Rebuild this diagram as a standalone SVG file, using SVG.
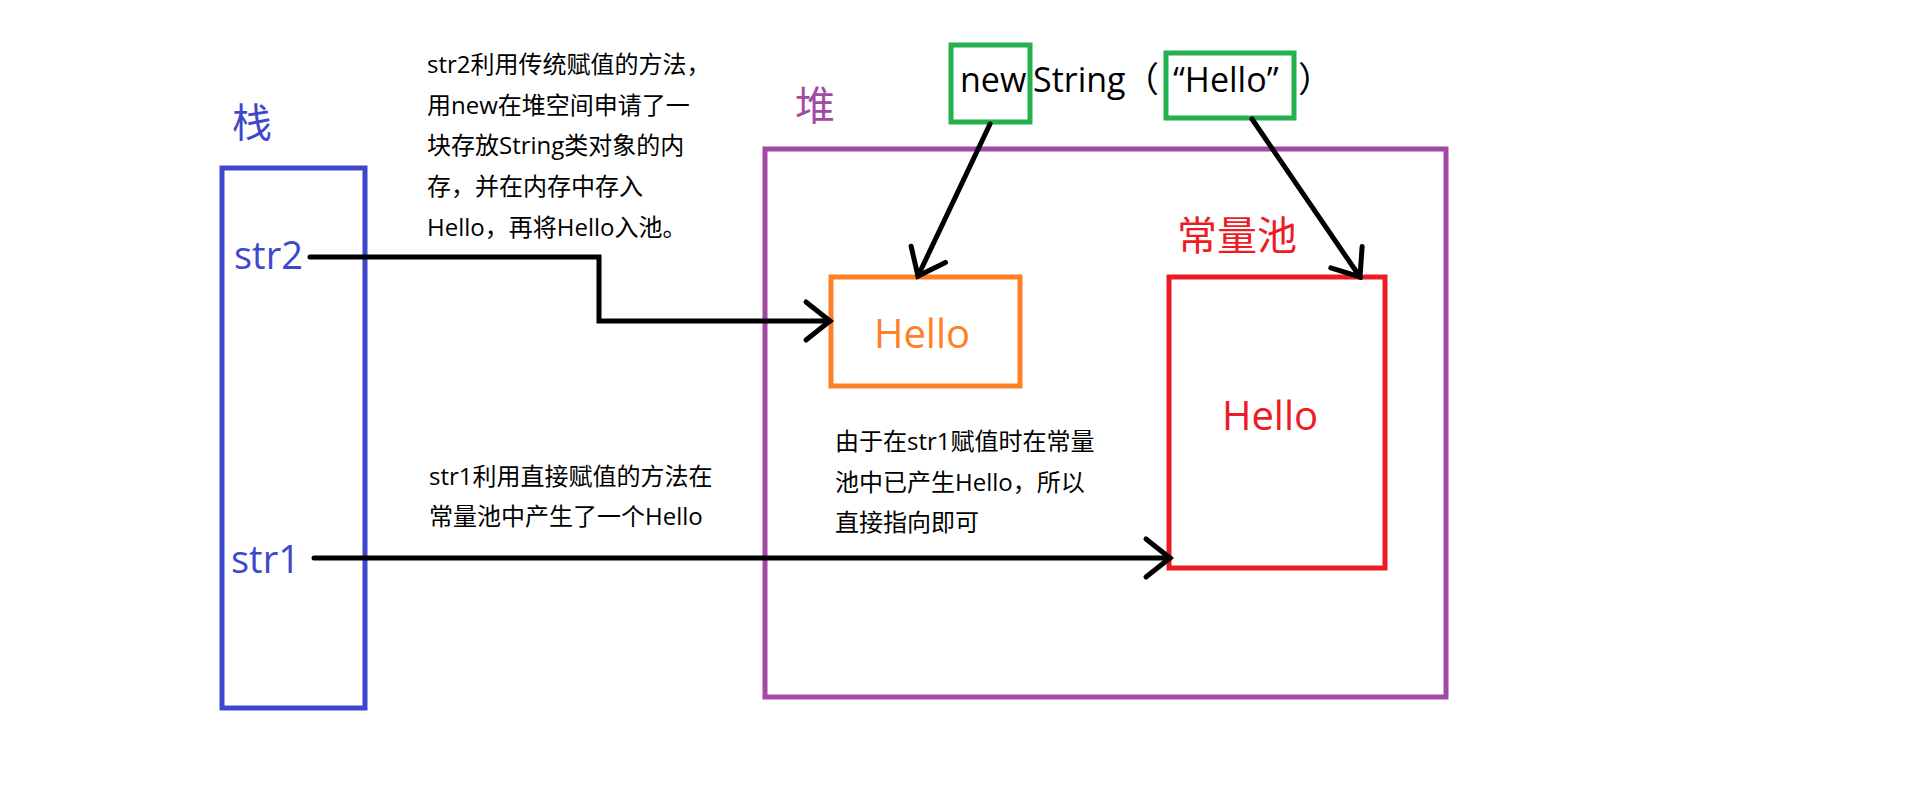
<svg xmlns="http://www.w3.org/2000/svg" width="1913" height="801" viewBox="0 0 1913 801">
<style>
.box{fill:none;stroke-width:5}
.lat{font-family:"Open Sans","Noto Sans CJK SC",sans-serif}
.cjk{font-family:"Noto Sans CJK SC","Open Sans",sans-serif}
.note{font-family:"Open Sans","Noto Sans CJK SC",sans-serif;font-size:24px;fill:#000}
.conn{fill:none;stroke:#000;stroke-width:5;stroke-linecap:round;stroke-linejoin:miter;marker-end:url(#arr)}
</style>
<defs>
<marker id="arr" markerUnits="userSpaceOnUse" viewBox="-30 -25 34 50" refX="0" refY="0" markerWidth="34" markerHeight="50" orient="auto" overflow="visible">
<path d="M -24 -19 L 0 0 L -24 19" fill="none" stroke="#000" stroke-width="5" stroke-linecap="round" stroke-linejoin="miter"/>
</marker>
</defs>
<rect width="1913" height="801" fill="#fff"/>

<g id="stack">
<text class="cjk" x="232" y="137" font-size="40" fill="#3F48CC">栈</text>
<rect class="box" x="222" y="168" width="143" height="540" stroke="#3F48CC"/>
<text class="lat" x="234" y="269" font-size="38" fill="#3F48CC">str2</text>
<text class="lat" x="231" y="573" font-size="38" fill="#3F48CC">str1</text>
</g>

<g id="heap">
<text class="cjk" x="795" y="120" font-size="40" fill="#A349A4">堆</text>
<rect class="box" x="765" y="149" width="681" height="548" stroke="#A349A4"/>
</g>

<g id="heap-hello">
<rect class="box" x="831" y="277" width="189" height="109" stroke="#FF7F27"/>
<text class="lat" x="922" y="348" font-size="40" fill="#FF7F27" text-anchor="middle">Hello</text>
</g>

<g id="pool">
<text class="cjk" x="1177" y="250" font-size="40" fill="#ED1C24">常量池</text>
<rect class="box" x="1169" y="277" width="216" height="291" stroke="#ED1C24"/>
<text class="lat" x="1270" y="430" font-size="40" fill="#ED1C24" text-anchor="middle">Hello</text>
</g>

<g id="new-expr">
<rect class="box" x="951" y="45" width="79" height="77" stroke="#22B14C"/>
<rect class="box" x="1166" y="53" width="128" height="65" stroke="#22B14C"/>
<text class="lat" x="960" y="92" font-size="34" fill="#000">new</text>
<text class="lat" x="1033" y="92" font-size="34" fill="#000">String</text>
<text class="cjk" x="1124" y="92" font-size="35" fill="#000">（</text>
<text class="lat" x="1173" y="92" font-size="34" fill="#000">“Hello”</text>
<text class="cjk" x="1298" y="92" font-size="35" fill="#000">）</text>
</g>

<g id="note-str2">
<text class="note" x="427" y="73">str2利用传统赋值的方法，</text>
<text class="note" x="427" y="114">用new在堆空间申请了一</text>
<text class="note" x="427" y="154">块存放String类对象的内</text>
<text class="note" x="427" y="195">存，并在内存中存入</text>
<text class="note" x="427" y="236">Hello，再将Hello入池。</text>
</g>

<g id="note-str1">
<text class="note" x="429" y="485">str1利用直接赋值的方法在</text>
<text class="note" x="429" y="525">常量池中产生了一个Hello</text>
</g>

<g id="note-pool">
<text class="note" x="835" y="450">由于在str1赋值时在常量</text>
<text class="note" x="835" y="491">池中已产生Hello，所以</text>
<text class="note" x="835" y="531">直接指向即可</text>
</g>

<g id="connectors">
<path class="conn" d="M 310 257 H 599 V 321 H 830"/>
<path class="conn" d="M 314 558 H 1170"/>
<path class="conn" d="M 990 124 L 918 276"/>
<path class="conn" d="M 1252 119 L 1360 277"/>
</g>
</svg>
